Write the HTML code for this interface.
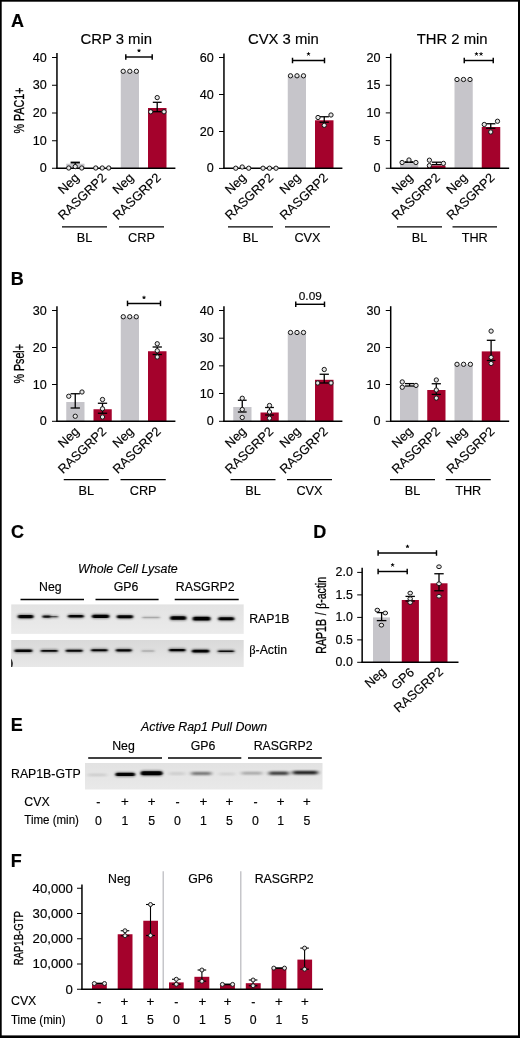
<!DOCTYPE html>
<html><head><meta charset="utf-8"><title>figure</title>
<style>html,body{margin:0;padding:0;background:#fff}body{width:520px;height:1038px;overflow:hidden}svg{display:block;opacity:0.999;will-change:transform}text{font-family:"Liberation Sans",sans-serif;fill:#000;stroke:#000;stroke-width:.16px}</style></head><body>
<svg width="520" height="1038" viewBox="0 0 520 1038">
<defs>
<filter id="b0" x="-20%" y="-100%" width="140%" height="300%"><feGaussianBlur stdDeviation="1.2 0.5"/></filter>
<filter id="b1" x="-20%" y="-100%" width="140%" height="300%"><feGaussianBlur stdDeviation="1.6 0.85"/></filter>
<filter id="b2" x="-20%" y="-100%" width="140%" height="300%"><feGaussianBlur stdDeviation="1.9 0.9"/></filter>
<linearGradient id="g1" x1="0" y1="0" x2="0" y2="1"><stop offset="0" stop-color="#e3e3e3"/><stop offset="1" stop-color="#ebebeb"/></linearGradient>
<linearGradient id="g2" x1="0" y1="0" x2="0" y2="1"><stop offset="0" stop-color="#d9d9d9"/><stop offset="1" stop-color="#e8e8e8"/></linearGradient>
<linearGradient id="g3" x1="0" y1="0" x2="0" y2="1"><stop offset="0" stop-color="#e2e2e2"/><stop offset="1" stop-color="#e9e9e9"/></linearGradient>
</defs>
<rect x="0" y="0" width="520" height="1038" fill="#fff"/>
<text x="11.00" y="26.80" font-size="18" text-anchor="start" font-weight="bold" font-style="normal" font-family="Liberation Sans" >A</text>
<text x="10.70" y="284.80" font-size="18" text-anchor="start" font-weight="bold" font-style="normal" font-family="Liberation Sans" >B</text>
<text x="10.90" y="538.30" font-size="18" text-anchor="start" font-weight="bold" font-style="normal" font-family="Liberation Sans" >C</text>
<text x="313.20" y="538.20" font-size="18" text-anchor="start" font-weight="bold" font-style="normal" font-family="Liberation Sans" >D</text>
<text x="10.80" y="730.80" font-size="18" text-anchor="start" font-weight="bold" font-style="normal" font-family="Liberation Sans" >E</text>
<text x="10.80" y="867.00" font-size="18" text-anchor="start" font-weight="bold" font-style="normal" font-family="Liberation Sans" >F</text>
<rect x="66.25" y="163.70" width="18.25" height="4.55" fill="#C6C5CA"/>
<rect x="120.75" y="71.30" width="18.25" height="96.95" fill="#C6C5CA"/>
<rect x="148.00" y="108.00" width="18.50" height="60.25" fill="#A4022C"/>
<line x1="56.95" y1="53.10" x2="56.95" y2="168.90" stroke="#000" stroke-width="1.5" stroke-linecap="butt"/>
<line x1="52.00" y1="57.50" x2="57.00" y2="57.50" stroke="#000" stroke-width="1.0" stroke-linecap="butt"/>
<text x="46.80" y="62.00" font-size="12.6" text-anchor="end" font-weight="normal" font-style="normal" font-family="Liberation Sans" >40</text>
<line x1="52.00" y1="85.25" x2="57.00" y2="85.25" stroke="#000" stroke-width="1.0" stroke-linecap="butt"/>
<text x="46.80" y="89.00" font-size="12.6" text-anchor="end" font-weight="normal" font-style="normal" font-family="Liberation Sans" >30</text>
<line x1="52.00" y1="113.00" x2="57.00" y2="113.00" stroke="#000" stroke-width="1.0" stroke-linecap="butt"/>
<text x="46.80" y="117.00" font-size="12.6" text-anchor="end" font-weight="normal" font-style="normal" font-family="Liberation Sans" >20</text>
<line x1="52.00" y1="140.75" x2="57.00" y2="140.75" stroke="#000" stroke-width="1.0" stroke-linecap="butt"/>
<text x="46.80" y="145.00" font-size="12.6" text-anchor="end" font-weight="normal" font-style="normal" font-family="Liberation Sans" >10</text>
<line x1="52.00" y1="168.25" x2="57.00" y2="168.25" stroke="#000" stroke-width="1.0" stroke-linecap="butt"/>
<text x="46.80" y="172.00" font-size="12.6" text-anchor="end" font-weight="normal" font-style="normal" font-family="Liberation Sans" >0</text>
<line x1="56.30" y1="168.25" x2="175.40" y2="168.25" stroke="#000" stroke-width="1.5" stroke-linecap="butt"/>
<text transform="translate(79.90,178.75) rotate(-43.5)" font-size="12.7" text-anchor="end">Neg</text>
<text transform="translate(107.10,178.75) rotate(-43.5)" font-size="12.7" text-anchor="end">RASGRP2</text>
<text transform="translate(134.40,178.75) rotate(-43.5)" font-size="12.7" text-anchor="end">Neg</text>
<text transform="translate(161.70,178.75) rotate(-43.5)" font-size="12.7" text-anchor="end">RASGRP2</text>
<line x1="62.00" y1="226.75" x2="107.00" y2="226.75" stroke="#000" stroke-width="1.25" stroke-linecap="butt"/>
<line x1="119.00" y1="226.75" x2="164.00" y2="226.75" stroke="#000" stroke-width="1.25" stroke-linecap="butt"/>
<text x="84.50" y="242.20" font-size="12.7" text-anchor="middle" font-weight="normal" font-style="normal" font-family="Liberation Sans" >BL</text>
<text x="141.50" y="242.20" font-size="12.7" text-anchor="middle" font-weight="normal" font-style="normal" font-family="Liberation Sans" >CRP</text>
<text x="116.25" y="44.20" font-size="14.85" text-anchor="middle" font-weight="normal" font-style="normal" font-family="Liberation Sans" >CRP 3 min</text>
<text transform="translate(23.70,110.50) rotate(-90) scale(0.765,1)" font-size="14.0" text-anchor="middle" font-weight="normal" style="stroke-width:.32px">% PAC1+</text>
<line x1="70.60" y1="162.55" x2="79.90" y2="162.55" stroke="#000" stroke-width="1.9" stroke-linecap="butt"/>
<line x1="75.25" y1="162.40" x2="75.25" y2="165.00" stroke="#000" stroke-width="1.3" stroke-linecap="butt"/>
<circle cx="68.75" cy="168.00" r="2.15" fill="#e6e6e6" stroke="#161616" stroke-width="1.0"/>
<circle cx="75.25" cy="166.60" r="2.15" fill="#e6e6e6" stroke="#161616" stroke-width="1.0"/>
<circle cx="81.75" cy="168.00" r="2.15" fill="#e6e6e6" stroke="#161616" stroke-width="1.0"/>
<circle cx="95.75" cy="168.00" r="2.15" fill="#e6e6e6" stroke="#161616" stroke-width="1.0"/>
<circle cx="102.25" cy="168.00" r="2.15" fill="#e6e6e6" stroke="#161616" stroke-width="1.0"/>
<circle cx="108.75" cy="168.00" r="2.15" fill="#e6e6e6" stroke="#161616" stroke-width="1.0"/>
<circle cx="123.20" cy="71.30" r="2.15" fill="#e6e6e6" stroke="#161616" stroke-width="1.0"/>
<circle cx="129.80" cy="71.30" r="2.15" fill="#e6e6e6" stroke="#161616" stroke-width="1.0"/>
<circle cx="136.40" cy="71.30" r="2.15" fill="#e6e6e6" stroke="#161616" stroke-width="1.0"/>
<line x1="157.20" y1="102.30" x2="157.20" y2="111.70" stroke="#000" stroke-width="1.3" stroke-linecap="butt"/>
<line x1="152.80" y1="102.30" x2="161.60" y2="102.30" stroke="#000" stroke-width="1.3" stroke-linecap="butt"/>
<line x1="152.80" y1="111.70" x2="161.60" y2="111.70" stroke="#000" stroke-width="1.3" stroke-linecap="butt"/>
<circle cx="157.20" cy="97.60" r="2.15" fill="#e6e6e6" stroke="#161616" stroke-width="1.0"/>
<circle cx="150.70" cy="111.80" r="2.15" fill="#e6e6e6" stroke="#161616" stroke-width="1.0"/>
<circle cx="164.00" cy="111.80" r="2.15" fill="#e6e6e6" stroke="#161616" stroke-width="1.0"/>
<line x1="125.80" y1="57.00" x2="152.20" y2="57.00" stroke="#000" stroke-width="1.45" stroke-linecap="butt"/>
<line x1="125.80" y1="54.25" x2="125.80" y2="59.75" stroke="#000" stroke-width="1.45" stroke-linecap="butt"/>
<line x1="152.20" y1="54.25" x2="152.20" y2="59.75" stroke="#000" stroke-width="1.45" stroke-linecap="butt"/>
<path d="M139.00 50.65L139.00 48.90M139.00 50.65L140.66 50.11M139.00 50.65L140.03 52.07M139.00 50.65L137.97 52.07M139.00 50.65L137.34 50.11" stroke="#000" stroke-width="1.0" fill="none" stroke-linecap="butt"/>
<rect x="287.75" y="75.80" width="18.25" height="92.45" fill="#C6C5CA"/>
<rect x="315.00" y="120.30" width="18.50" height="47.95" fill="#A4022C"/>
<line x1="223.95" y1="53.60" x2="223.95" y2="168.90" stroke="#000" stroke-width="1.5" stroke-linecap="butt"/>
<line x1="219.00" y1="57.50" x2="224.00" y2="57.50" stroke="#000" stroke-width="1.0" stroke-linecap="butt"/>
<text x="213.80" y="62.00" font-size="12.6" text-anchor="end" font-weight="normal" font-style="normal" font-family="Liberation Sans" >60</text>
<line x1="219.00" y1="94.50" x2="224.00" y2="94.50" stroke="#000" stroke-width="1.0" stroke-linecap="butt"/>
<text x="213.80" y="99.00" font-size="12.6" text-anchor="end" font-weight="normal" font-style="normal" font-family="Liberation Sans" >40</text>
<line x1="219.00" y1="131.50" x2="224.00" y2="131.50" stroke="#000" stroke-width="1.0" stroke-linecap="butt"/>
<text x="213.80" y="136.00" font-size="12.6" text-anchor="end" font-weight="normal" font-style="normal" font-family="Liberation Sans" >20</text>
<line x1="219.00" y1="168.40" x2="224.00" y2="168.40" stroke="#000" stroke-width="1.0" stroke-linecap="butt"/>
<text x="213.80" y="172.00" font-size="12.6" text-anchor="end" font-weight="normal" font-style="normal" font-family="Liberation Sans" >0</text>
<line x1="223.30" y1="168.25" x2="342.40" y2="168.25" stroke="#000" stroke-width="1.5" stroke-linecap="butt"/>
<text transform="translate(246.90,178.75) rotate(-43.5)" font-size="12.7" text-anchor="end">Neg</text>
<text transform="translate(274.10,178.75) rotate(-43.5)" font-size="12.7" text-anchor="end">RASGRP2</text>
<text transform="translate(301.40,178.75) rotate(-43.5)" font-size="12.7" text-anchor="end">Neg</text>
<text transform="translate(328.70,178.75) rotate(-43.5)" font-size="12.7" text-anchor="end">RASGRP2</text>
<line x1="228.00" y1="226.75" x2="273.00" y2="226.75" stroke="#000" stroke-width="1.25" stroke-linecap="butt"/>
<line x1="285.00" y1="226.75" x2="330.00" y2="226.75" stroke="#000" stroke-width="1.25" stroke-linecap="butt"/>
<text x="250.50" y="242.20" font-size="12.7" text-anchor="middle" font-weight="normal" font-style="normal" font-family="Liberation Sans" >BL</text>
<text x="307.50" y="242.20" font-size="12.7" text-anchor="middle" font-weight="normal" font-style="normal" font-family="Liberation Sans" >CVX</text>
<text x="283.40" y="44.00" font-size="14.85" text-anchor="middle" font-weight="normal" font-style="normal" font-family="Liberation Sans" >CVX 3 min</text>
<circle cx="235.75" cy="168.20" r="2.15" fill="#e6e6e6" stroke="#161616" stroke-width="1.0"/>
<circle cx="242.20" cy="167.00" r="2.15" fill="#e6e6e6" stroke="#161616" stroke-width="1.0"/>
<circle cx="248.75" cy="168.20" r="2.15" fill="#e6e6e6" stroke="#161616" stroke-width="1.0"/>
<circle cx="263.00" cy="168.20" r="2.15" fill="#e6e6e6" stroke="#161616" stroke-width="1.0"/>
<circle cx="269.50" cy="168.20" r="2.15" fill="#e6e6e6" stroke="#161616" stroke-width="1.0"/>
<circle cx="276.00" cy="168.20" r="2.15" fill="#e6e6e6" stroke="#161616" stroke-width="1.0"/>
<circle cx="290.50" cy="75.80" r="2.15" fill="#e6e6e6" stroke="#161616" stroke-width="1.0"/>
<circle cx="297.00" cy="75.80" r="2.15" fill="#e6e6e6" stroke="#161616" stroke-width="1.0"/>
<circle cx="303.50" cy="75.80" r="2.15" fill="#e6e6e6" stroke="#161616" stroke-width="1.0"/>
<line x1="324.25" y1="116.75" x2="324.25" y2="122.25" stroke="#000" stroke-width="1.3" stroke-linecap="butt"/>
<line x1="319.60" y1="116.75" x2="328.90" y2="116.75" stroke="#000" stroke-width="1.3" stroke-linecap="butt"/>
<line x1="319.60" y1="122.25" x2="328.90" y2="122.25" stroke="#000" stroke-width="1.3" stroke-linecap="butt"/>
<circle cx="318.00" cy="117.50" r="2.15" fill="#e6e6e6" stroke="#161616" stroke-width="1.0"/>
<circle cx="331.00" cy="115.00" r="2.15" fill="#e6e6e6" stroke="#161616" stroke-width="1.0"/>
<circle cx="324.25" cy="125.30" r="2.15" fill="#e6e6e6" stroke="#161616" stroke-width="1.0"/>
<line x1="292.50" y1="60.50" x2="324.50" y2="60.50" stroke="#000" stroke-width="1.45" stroke-linecap="butt"/>
<line x1="292.50" y1="57.75" x2="292.50" y2="63.25" stroke="#000" stroke-width="1.45" stroke-linecap="butt"/>
<line x1="324.50" y1="57.75" x2="324.50" y2="63.25" stroke="#000" stroke-width="1.45" stroke-linecap="butt"/>
<path d="M308.50 54.05L308.50 52.30M308.50 54.05L310.16 53.51M308.50 54.05L309.53 55.47M308.50 54.05L307.47 55.47M308.50 54.05L306.84 53.51" stroke="#000" stroke-width="1.0" fill="none" stroke-linecap="butt"/>
<rect x="400.00" y="163.20" width="18.25" height="5.05" fill="#C6C5CA"/>
<rect x="427.25" y="165.50" width="18.25" height="2.75" fill="#A4022C"/>
<rect x="454.50" y="79.50" width="18.25" height="88.75" fill="#C6C5CA"/>
<rect x="481.75" y="127.00" width="18.50" height="41.25" fill="#A4022C"/>
<line x1="390.70" y1="53.60" x2="390.70" y2="168.90" stroke="#000" stroke-width="1.5" stroke-linecap="butt"/>
<line x1="385.75" y1="57.50" x2="390.75" y2="57.50" stroke="#000" stroke-width="1.0" stroke-linecap="butt"/>
<text x="380.55" y="62.00" font-size="12.6" text-anchor="end" font-weight="normal" font-style="normal" font-family="Liberation Sans" >20</text>
<line x1="385.75" y1="85.25" x2="390.75" y2="85.25" stroke="#000" stroke-width="1.0" stroke-linecap="butt"/>
<text x="380.55" y="89.00" font-size="12.6" text-anchor="end" font-weight="normal" font-style="normal" font-family="Liberation Sans" >15</text>
<line x1="385.75" y1="112.90" x2="390.75" y2="112.90" stroke="#000" stroke-width="1.0" stroke-linecap="butt"/>
<text x="380.55" y="117.00" font-size="12.6" text-anchor="end" font-weight="normal" font-style="normal" font-family="Liberation Sans" >10</text>
<line x1="385.75" y1="140.60" x2="390.75" y2="140.60" stroke="#000" stroke-width="1.0" stroke-linecap="butt"/>
<text x="380.55" y="145.00" font-size="12.6" text-anchor="end" font-weight="normal" font-style="normal" font-family="Liberation Sans" >5</text>
<line x1="385.75" y1="168.25" x2="390.75" y2="168.25" stroke="#000" stroke-width="1.0" stroke-linecap="butt"/>
<text x="380.55" y="172.00" font-size="12.6" text-anchor="end" font-weight="normal" font-style="normal" font-family="Liberation Sans" >0</text>
<line x1="390.05" y1="168.25" x2="509.15" y2="168.25" stroke="#000" stroke-width="1.5" stroke-linecap="butt"/>
<text transform="translate(413.65,178.75) rotate(-43.5)" font-size="12.7" text-anchor="end">Neg</text>
<text transform="translate(440.85,178.75) rotate(-43.5)" font-size="12.7" text-anchor="end">RASGRP2</text>
<text transform="translate(468.15,178.75) rotate(-43.5)" font-size="12.7" text-anchor="end">Neg</text>
<text transform="translate(495.45,178.75) rotate(-43.5)" font-size="12.7" text-anchor="end">RASGRP2</text>
<line x1="397.00" y1="226.75" x2="442.00" y2="226.75" stroke="#000" stroke-width="1.25" stroke-linecap="butt"/>
<line x1="452.50" y1="226.75" x2="497.00" y2="226.75" stroke="#000" stroke-width="1.25" stroke-linecap="butt"/>
<text x="419.50" y="242.20" font-size="12.7" text-anchor="middle" font-weight="normal" font-style="normal" font-family="Liberation Sans" >BL</text>
<text x="474.75" y="242.20" font-size="12.7" text-anchor="middle" font-weight="normal" font-style="normal" font-family="Liberation Sans" >THR</text>
<text x="452.10" y="44.00" font-size="14.85" text-anchor="middle" font-weight="normal" font-style="normal" font-family="Liberation Sans" >THR 2 min</text>
<line x1="409.00" y1="162.20" x2="409.00" y2="162.20" stroke="#000" stroke-width="1.6" stroke-linecap="butt"/>
<line x1="404.75" y1="162.20" x2="413.25" y2="162.20" stroke="#000" stroke-width="1.6" stroke-linecap="butt"/>
<line x1="404.75" y1="162.20" x2="413.25" y2="162.20" stroke="#000" stroke-width="1.6" stroke-linecap="butt"/>
<circle cx="402.10" cy="162.50" r="2.15" fill="#e6e6e6" stroke="#161616" stroke-width="1.0"/>
<circle cx="409.00" cy="160.00" r="2.15" fill="#e6e6e6" stroke="#161616" stroke-width="1.0"/>
<circle cx="415.90" cy="162.50" r="2.15" fill="#e6e6e6" stroke="#161616" stroke-width="1.0"/>
<rect x="431.90" y="161.70" width="9.40" height="3.30" fill="#fff"/>
<line x1="436.50" y1="162.20" x2="436.50" y2="164.60" stroke="#000" stroke-width="1.3" stroke-linecap="butt"/>
<line x1="431.85" y1="162.20" x2="441.15" y2="162.20" stroke="#000" stroke-width="1.3" stroke-linecap="butt"/>
<line x1="431.85" y1="164.60" x2="441.15" y2="164.60" stroke="#000" stroke-width="1.3" stroke-linecap="butt"/>
<circle cx="429.40" cy="160.20" r="2.15" fill="#e6e6e6" stroke="#161616" stroke-width="1.0"/>
<circle cx="429.40" cy="165.60" r="2.15" fill="#e6e6e6" stroke="#161616" stroke-width="1.0"/>
<circle cx="443.40" cy="163.40" r="2.15" fill="#e6e6e6" stroke="#161616" stroke-width="1.0"/>
<circle cx="457.00" cy="79.50" r="2.15" fill="#e6e6e6" stroke="#161616" stroke-width="1.0"/>
<circle cx="463.50" cy="79.50" r="2.15" fill="#e6e6e6" stroke="#161616" stroke-width="1.0"/>
<circle cx="470.00" cy="79.50" r="2.15" fill="#e6e6e6" stroke="#161616" stroke-width="1.0"/>
<line x1="490.75" y1="123.75" x2="490.75" y2="128.25" stroke="#000" stroke-width="1.3" stroke-linecap="butt"/>
<line x1="486.10" y1="123.75" x2="495.40" y2="123.75" stroke="#000" stroke-width="1.3" stroke-linecap="butt"/>
<line x1="486.10" y1="128.25" x2="495.40" y2="128.25" stroke="#000" stroke-width="1.3" stroke-linecap="butt"/>
<circle cx="484.25" cy="124.50" r="2.15" fill="#e6e6e6" stroke="#161616" stroke-width="1.0"/>
<circle cx="497.50" cy="121.25" r="2.15" fill="#e6e6e6" stroke="#161616" stroke-width="1.0"/>
<circle cx="490.75" cy="132.00" r="2.15" fill="#e6e6e6" stroke="#161616" stroke-width="1.0"/>
<line x1="464.25" y1="60.50" x2="493.25" y2="60.50" stroke="#000" stroke-width="1.45" stroke-linecap="butt"/>
<line x1="464.25" y1="57.75" x2="464.25" y2="63.25" stroke="#000" stroke-width="1.45" stroke-linecap="butt"/>
<line x1="493.25" y1="57.75" x2="493.25" y2="63.25" stroke="#000" stroke-width="1.45" stroke-linecap="butt"/>
<path d="M476.45 54.05L476.45 52.30M476.45 54.05L478.11 53.51M476.45 54.05L477.48 55.47M476.45 54.05L475.42 55.47M476.45 54.05L474.79 53.51" stroke="#000" stroke-width="1.0" fill="none" stroke-linecap="butt"/>
<path d="M481.05 54.05L481.05 52.30M481.05 54.05L482.71 53.51M481.05 54.05L482.08 55.47M481.05 54.05L480.02 55.47M481.05 54.05L479.39 53.51" stroke="#000" stroke-width="1.0" fill="none" stroke-linecap="butt"/>
<rect x="66.25" y="402.00" width="18.25" height="19.30" fill="#C6C5CA"/>
<rect x="93.50" y="409.25" width="18.25" height="12.05" fill="#A4022C"/>
<rect x="120.75" y="316.75" width="18.25" height="104.55" fill="#C6C5CA"/>
<rect x="148.00" y="351.25" width="18.50" height="70.05" fill="#A4022C"/>
<line x1="56.95" y1="306.20" x2="56.95" y2="421.95" stroke="#000" stroke-width="1.5" stroke-linecap="butt"/>
<line x1="52.00" y1="310.50" x2="57.00" y2="310.50" stroke="#000" stroke-width="1.0" stroke-linecap="butt"/>
<text x="46.80" y="315.00" font-size="12.6" text-anchor="end" font-weight="normal" font-style="normal" font-family="Liberation Sans" >30</text>
<line x1="52.00" y1="347.50" x2="57.00" y2="347.50" stroke="#000" stroke-width="1.0" stroke-linecap="butt"/>
<text x="46.80" y="352.00" font-size="12.6" text-anchor="end" font-weight="normal" font-style="normal" font-family="Liberation Sans" >20</text>
<line x1="52.00" y1="384.50" x2="57.00" y2="384.50" stroke="#000" stroke-width="1.0" stroke-linecap="butt"/>
<text x="46.80" y="389.00" font-size="12.6" text-anchor="end" font-weight="normal" font-style="normal" font-family="Liberation Sans" >10</text>
<line x1="52.00" y1="421.30" x2="57.00" y2="421.30" stroke="#000" stroke-width="1.0" stroke-linecap="butt"/>
<text x="46.80" y="425.00" font-size="12.6" text-anchor="end" font-weight="normal" font-style="normal" font-family="Liberation Sans" >0</text>
<line x1="56.30" y1="421.30" x2="175.40" y2="421.30" stroke="#000" stroke-width="1.5" stroke-linecap="butt"/>
<text transform="translate(79.90,432.40) rotate(-43.5)" font-size="12.7" text-anchor="end">Neg</text>
<text transform="translate(107.10,432.40) rotate(-43.5)" font-size="12.7" text-anchor="end">RASGRP2</text>
<text transform="translate(134.40,432.40) rotate(-43.5)" font-size="12.7" text-anchor="end">Neg</text>
<text transform="translate(161.70,432.40) rotate(-43.5)" font-size="12.7" text-anchor="end">RASGRP2</text>
<line x1="63.75" y1="479.60" x2="108.75" y2="479.60" stroke="#000" stroke-width="1.25" stroke-linecap="butt"/>
<line x1="120.50" y1="479.60" x2="165.75" y2="479.60" stroke="#000" stroke-width="1.25" stroke-linecap="butt"/>
<text x="86.25" y="494.60" font-size="12.7" text-anchor="middle" font-weight="normal" font-style="normal" font-family="Liberation Sans" >BL</text>
<text x="143.12" y="494.60" font-size="12.7" text-anchor="middle" font-weight="normal" font-style="normal" font-family="Liberation Sans" >CRP</text>
<text transform="translate(23.70,363.80) rotate(-90) scale(0.765,1)" font-size="14.0" text-anchor="middle" font-weight="normal" style="stroke-width:.32px">% Psel+</text>
<line x1="75.25" y1="393.75" x2="75.25" y2="408.00" stroke="#000" stroke-width="1.3" stroke-linecap="butt"/>
<line x1="70.60" y1="393.75" x2="79.90" y2="393.75" stroke="#000" stroke-width="1.3" stroke-linecap="butt"/>
<line x1="70.60" y1="408.00" x2="79.90" y2="408.00" stroke="#000" stroke-width="1.3" stroke-linecap="butt"/>
<circle cx="68.75" cy="396.25" r="2.15" fill="#e6e6e6" stroke="#161616" stroke-width="1.0"/>
<circle cx="82.00" cy="392.00" r="2.15" fill="#e6e6e6" stroke="#161616" stroke-width="1.0"/>
<circle cx="75.25" cy="416.25" r="2.15" fill="#e6e6e6" stroke="#161616" stroke-width="1.0"/>
<line x1="102.50" y1="403.25" x2="102.50" y2="413.25" stroke="#000" stroke-width="1.3" stroke-linecap="butt"/>
<line x1="97.85" y1="403.25" x2="107.15" y2="403.25" stroke="#000" stroke-width="1.3" stroke-linecap="butt"/>
<line x1="97.85" y1="413.25" x2="107.15" y2="413.25" stroke="#000" stroke-width="1.3" stroke-linecap="butt"/>
<circle cx="102.50" cy="399.50" r="2.15" fill="#e6e6e6" stroke="#161616" stroke-width="1.0"/>
<circle cx="102.50" cy="408.75" r="2.15" fill="#e6e6e6" stroke="#161616" stroke-width="1.0"/>
<circle cx="102.50" cy="417.00" r="2.15" fill="#e6e6e6" stroke="#161616" stroke-width="1.0"/>
<circle cx="123.25" cy="316.75" r="2.15" fill="#e6e6e6" stroke="#161616" stroke-width="1.0"/>
<circle cx="129.75" cy="316.75" r="2.15" fill="#e6e6e6" stroke="#161616" stroke-width="1.0"/>
<circle cx="136.25" cy="316.75" r="2.15" fill="#e6e6e6" stroke="#161616" stroke-width="1.0"/>
<line x1="157.25" y1="347.00" x2="157.25" y2="354.50" stroke="#000" stroke-width="1.3" stroke-linecap="butt"/>
<line x1="152.60" y1="347.00" x2="161.90" y2="347.00" stroke="#000" stroke-width="1.3" stroke-linecap="butt"/>
<line x1="152.60" y1="354.50" x2="161.90" y2="354.50" stroke="#000" stroke-width="1.3" stroke-linecap="butt"/>
<circle cx="157.25" cy="343.75" r="2.15" fill="#e6e6e6" stroke="#161616" stroke-width="1.0"/>
<circle cx="157.25" cy="350.75" r="2.15" fill="#e6e6e6" stroke="#161616" stroke-width="1.0"/>
<circle cx="157.25" cy="357.00" r="2.15" fill="#e6e6e6" stroke="#161616" stroke-width="1.0"/>
<line x1="127.50" y1="303.40" x2="160.50" y2="303.40" stroke="#000" stroke-width="1.45" stroke-linecap="butt"/>
<line x1="127.50" y1="300.65" x2="127.50" y2="306.15" stroke="#000" stroke-width="1.45" stroke-linecap="butt"/>
<line x1="160.50" y1="300.65" x2="160.50" y2="306.15" stroke="#000" stroke-width="1.45" stroke-linecap="butt"/>
<path d="M144.00 297.55L144.00 295.80M144.00 297.55L145.66 297.01M144.00 297.55L145.03 298.97M144.00 297.55L142.97 298.97M144.00 297.55L142.34 297.01" stroke="#000" stroke-width="1.0" fill="none" stroke-linecap="butt"/>
<rect x="233.25" y="407.00" width="18.25" height="14.30" fill="#C6C5CA"/>
<rect x="260.50" y="412.50" width="18.25" height="8.80" fill="#A4022C"/>
<rect x="287.75" y="332.50" width="18.25" height="88.80" fill="#C6C5CA"/>
<rect x="315.00" y="379.80" width="18.50" height="41.50" fill="#A4022C"/>
<line x1="223.95" y1="306.20" x2="223.95" y2="421.95" stroke="#000" stroke-width="1.5" stroke-linecap="butt"/>
<line x1="219.00" y1="310.50" x2="224.00" y2="310.50" stroke="#000" stroke-width="1.0" stroke-linecap="butt"/>
<text x="213.80" y="315.00" font-size="12.6" text-anchor="end" font-weight="normal" font-style="normal" font-family="Liberation Sans" >40</text>
<line x1="219.00" y1="338.20" x2="224.00" y2="338.20" stroke="#000" stroke-width="1.0" stroke-linecap="butt"/>
<text x="213.80" y="342.00" font-size="12.6" text-anchor="end" font-weight="normal" font-style="normal" font-family="Liberation Sans" >30</text>
<line x1="219.00" y1="365.85" x2="224.00" y2="365.85" stroke="#000" stroke-width="1.0" stroke-linecap="butt"/>
<text x="213.80" y="370.00" font-size="12.6" text-anchor="end" font-weight="normal" font-style="normal" font-family="Liberation Sans" >20</text>
<line x1="219.00" y1="393.50" x2="224.00" y2="393.50" stroke="#000" stroke-width="1.0" stroke-linecap="butt"/>
<text x="213.80" y="398.00" font-size="12.6" text-anchor="end" font-weight="normal" font-style="normal" font-family="Liberation Sans" >10</text>
<line x1="219.00" y1="421.30" x2="224.00" y2="421.30" stroke="#000" stroke-width="1.0" stroke-linecap="butt"/>
<text x="213.80" y="425.00" font-size="12.6" text-anchor="end" font-weight="normal" font-style="normal" font-family="Liberation Sans" >0</text>
<line x1="223.30" y1="421.30" x2="342.40" y2="421.30" stroke="#000" stroke-width="1.5" stroke-linecap="butt"/>
<text transform="translate(246.90,432.40) rotate(-43.5)" font-size="12.7" text-anchor="end">Neg</text>
<text transform="translate(274.10,432.40) rotate(-43.5)" font-size="12.7" text-anchor="end">RASGRP2</text>
<text transform="translate(301.40,432.40) rotate(-43.5)" font-size="12.7" text-anchor="end">Neg</text>
<text transform="translate(328.70,432.40) rotate(-43.5)" font-size="12.7" text-anchor="end">RASGRP2</text>
<line x1="230.50" y1="479.60" x2="275.50" y2="479.60" stroke="#000" stroke-width="1.25" stroke-linecap="butt"/>
<line x1="287.00" y1="479.60" x2="332.00" y2="479.60" stroke="#000" stroke-width="1.25" stroke-linecap="butt"/>
<text x="253.00" y="494.60" font-size="12.7" text-anchor="middle" font-weight="normal" font-style="normal" font-family="Liberation Sans" >BL</text>
<text x="309.50" y="494.60" font-size="12.7" text-anchor="middle" font-weight="normal" font-style="normal" font-family="Liberation Sans" >CVX</text>
<line x1="242.25" y1="400.25" x2="242.25" y2="412.00" stroke="#000" stroke-width="1.3" stroke-linecap="butt"/>
<line x1="237.85" y1="400.25" x2="246.65" y2="400.25" stroke="#000" stroke-width="1.3" stroke-linecap="butt"/>
<line x1="237.85" y1="412.00" x2="246.65" y2="412.00" stroke="#000" stroke-width="1.3" stroke-linecap="butt"/>
<circle cx="242.25" cy="398.25" r="2.15" fill="#e6e6e6" stroke="#161616" stroke-width="1.0"/>
<circle cx="242.25" cy="409.50" r="2.15" fill="#e6e6e6" stroke="#161616" stroke-width="1.0"/>
<circle cx="242.25" cy="417.50" r="2.15" fill="#e6e6e6" stroke="#161616" stroke-width="1.0"/>
<line x1="269.50" y1="407.50" x2="269.50" y2="415.00" stroke="#000" stroke-width="1.3" stroke-linecap="butt"/>
<line x1="265.10" y1="407.50" x2="273.90" y2="407.50" stroke="#000" stroke-width="1.3" stroke-linecap="butt"/>
<line x1="265.10" y1="415.00" x2="273.90" y2="415.00" stroke="#000" stroke-width="1.3" stroke-linecap="butt"/>
<circle cx="269.50" cy="405.50" r="2.15" fill="#e6e6e6" stroke="#161616" stroke-width="1.0"/>
<circle cx="269.50" cy="412.00" r="2.15" fill="#e6e6e6" stroke="#161616" stroke-width="1.0"/>
<circle cx="269.50" cy="418.25" r="2.15" fill="#e6e6e6" stroke="#161616" stroke-width="1.0"/>
<circle cx="290.50" cy="332.50" r="2.15" fill="#e6e6e6" stroke="#161616" stroke-width="1.0"/>
<circle cx="297.00" cy="332.50" r="2.15" fill="#e6e6e6" stroke="#161616" stroke-width="1.0"/>
<circle cx="303.50" cy="332.50" r="2.15" fill="#e6e6e6" stroke="#161616" stroke-width="1.0"/>
<line x1="324.25" y1="374.25" x2="324.25" y2="383.00" stroke="#000" stroke-width="1.3" stroke-linecap="butt"/>
<line x1="319.60" y1="374.25" x2="328.90" y2="374.25" stroke="#000" stroke-width="1.3" stroke-linecap="butt"/>
<line x1="319.60" y1="383.00" x2="328.90" y2="383.00" stroke="#000" stroke-width="1.3" stroke-linecap="butt"/>
<circle cx="324.25" cy="369.50" r="2.15" fill="#e6e6e6" stroke="#161616" stroke-width="1.0"/>
<circle cx="317.75" cy="383.00" r="2.15" fill="#e6e6e6" stroke="#161616" stroke-width="1.0"/>
<circle cx="331.00" cy="383.00" r="2.15" fill="#e6e6e6" stroke="#161616" stroke-width="1.0"/>
<line x1="295.75" y1="304.30" x2="324.50" y2="304.30" stroke="#000" stroke-width="1.45" stroke-linecap="butt"/>
<line x1="295.75" y1="301.55" x2="295.75" y2="307.05" stroke="#000" stroke-width="1.45" stroke-linecap="butt"/>
<line x1="324.50" y1="301.55" x2="324.50" y2="307.05" stroke="#000" stroke-width="1.45" stroke-linecap="butt"/>
<text x="310.30" y="299.60" font-size="11.8" text-anchor="middle" font-weight="normal" font-style="normal" font-family="Liberation Sans" >0.09</text>
<rect x="400.00" y="385.80" width="18.25" height="35.50" fill="#C6C5CA"/>
<rect x="427.25" y="390.00" width="18.25" height="31.30" fill="#A4022C"/>
<rect x="454.50" y="364.30" width="18.25" height="57.00" fill="#C6C5CA"/>
<rect x="481.75" y="351.40" width="18.50" height="69.90" fill="#A4022C"/>
<line x1="390.70" y1="306.20" x2="390.70" y2="421.95" stroke="#000" stroke-width="1.5" stroke-linecap="butt"/>
<line x1="385.75" y1="310.50" x2="390.75" y2="310.50" stroke="#000" stroke-width="1.0" stroke-linecap="butt"/>
<text x="380.55" y="315.00" font-size="12.6" text-anchor="end" font-weight="normal" font-style="normal" font-family="Liberation Sans" >30</text>
<line x1="385.75" y1="347.50" x2="390.75" y2="347.50" stroke="#000" stroke-width="1.0" stroke-linecap="butt"/>
<text x="380.55" y="352.00" font-size="12.6" text-anchor="end" font-weight="normal" font-style="normal" font-family="Liberation Sans" >20</text>
<line x1="385.75" y1="384.50" x2="390.75" y2="384.50" stroke="#000" stroke-width="1.0" stroke-linecap="butt"/>
<text x="380.55" y="389.00" font-size="12.6" text-anchor="end" font-weight="normal" font-style="normal" font-family="Liberation Sans" >10</text>
<line x1="385.75" y1="421.30" x2="390.75" y2="421.30" stroke="#000" stroke-width="1.0" stroke-linecap="butt"/>
<text x="380.55" y="425.00" font-size="12.6" text-anchor="end" font-weight="normal" font-style="normal" font-family="Liberation Sans" >0</text>
<line x1="390.05" y1="421.30" x2="509.15" y2="421.30" stroke="#000" stroke-width="1.5" stroke-linecap="butt"/>
<text transform="translate(413.65,432.40) rotate(-43.5)" font-size="12.7" text-anchor="end">Neg</text>
<text transform="translate(440.85,432.40) rotate(-43.5)" font-size="12.7" text-anchor="end">RASGRP2</text>
<text transform="translate(468.15,432.40) rotate(-43.5)" font-size="12.7" text-anchor="end">Neg</text>
<text transform="translate(495.45,432.40) rotate(-43.5)" font-size="12.7" text-anchor="end">RASGRP2</text>
<line x1="390.00" y1="479.60" x2="435.00" y2="479.60" stroke="#000" stroke-width="1.25" stroke-linecap="butt"/>
<line x1="445.75" y1="479.60" x2="490.75" y2="479.60" stroke="#000" stroke-width="1.25" stroke-linecap="butt"/>
<text x="412.50" y="494.60" font-size="12.7" text-anchor="middle" font-weight="normal" font-style="normal" font-family="Liberation Sans" >BL</text>
<text x="468.25" y="494.60" font-size="12.7" text-anchor="middle" font-weight="normal" font-style="normal" font-family="Liberation Sans" >THR</text>
<rect x="405.00" y="383.60" width="9.40" height="2.20" fill="#fff"/>
<line x1="409.60" y1="383.60" x2="409.60" y2="386.00" stroke="#000" stroke-width="1.3" stroke-linecap="butt"/>
<line x1="404.90" y1="383.60" x2="414.30" y2="383.60" stroke="#000" stroke-width="1.3" stroke-linecap="butt"/>
<line x1="404.90" y1="386.00" x2="414.30" y2="386.00" stroke="#000" stroke-width="1.3" stroke-linecap="butt"/>
<circle cx="402.25" cy="381.90" r="2.15" fill="#e6e6e6" stroke="#161616" stroke-width="1.0"/>
<circle cx="402.25" cy="387.25" r="2.15" fill="#e6e6e6" stroke="#161616" stroke-width="1.0"/>
<circle cx="416.00" cy="385.40" r="2.15" fill="#e6e6e6" stroke="#161616" stroke-width="1.0"/>
<line x1="436.30" y1="383.75" x2="436.30" y2="394.40" stroke="#000" stroke-width="1.3" stroke-linecap="butt"/>
<line x1="431.70" y1="383.75" x2="440.90" y2="383.75" stroke="#000" stroke-width="1.3" stroke-linecap="butt"/>
<line x1="431.70" y1="394.40" x2="440.90" y2="394.40" stroke="#000" stroke-width="1.3" stroke-linecap="butt"/>
<circle cx="436.30" cy="380.00" r="2.15" fill="#e6e6e6" stroke="#161616" stroke-width="1.0"/>
<circle cx="436.30" cy="390.00" r="2.15" fill="#e6e6e6" stroke="#161616" stroke-width="1.0"/>
<circle cx="436.30" cy="398.10" r="2.15" fill="#e6e6e6" stroke="#161616" stroke-width="1.0"/>
<circle cx="457.00" cy="364.30" r="2.15" fill="#e6e6e6" stroke="#161616" stroke-width="1.0"/>
<circle cx="463.60" cy="364.30" r="2.15" fill="#e6e6e6" stroke="#161616" stroke-width="1.0"/>
<circle cx="470.40" cy="364.30" r="2.15" fill="#e6e6e6" stroke="#161616" stroke-width="1.0"/>
<line x1="491.10" y1="340.30" x2="491.10" y2="360.50" stroke="#000" stroke-width="1.3" stroke-linecap="butt"/>
<line x1="486.80" y1="340.30" x2="495.40" y2="340.30" stroke="#000" stroke-width="1.3" stroke-linecap="butt"/>
<line x1="486.80" y1="360.50" x2="495.40" y2="360.50" stroke="#000" stroke-width="1.3" stroke-linecap="butt"/>
<circle cx="491.10" cy="331.10" r="2.15" fill="#e6e6e6" stroke="#161616" stroke-width="1.0"/>
<circle cx="491.10" cy="357.40" r="2.15" fill="#e6e6e6" stroke="#161616" stroke-width="1.0"/>
<circle cx="491.10" cy="363.50" r="2.15" fill="#e6e6e6" stroke="#161616" stroke-width="1.0"/>
<text x="127.90" y="572.70" font-size="12.4" text-anchor="middle" font-weight="normal" font-style="italic" font-family="Liberation Sans" >Whole Cell Lysate</text>
<text x="50.40" y="591.40" font-size="12.3" text-anchor="middle" font-weight="normal" font-style="normal" font-family="Liberation Sans" >Neg</text>
<text x="126.00" y="591.40" font-size="12.3" text-anchor="middle" font-weight="normal" font-style="normal" font-family="Liberation Sans" >GP6</text>
<text x="205.20" y="591.40" font-size="12.3" text-anchor="middle" font-weight="normal" font-style="normal" font-family="Liberation Sans" >RASGRP2</text>
<line x1="20.50" y1="599.40" x2="84.00" y2="599.40" stroke="#000" stroke-width="1.5" stroke-linecap="butt"/>
<line x1="95.50" y1="599.40" x2="158.60" y2="599.40" stroke="#000" stroke-width="1.5" stroke-linecap="butt"/>
<line x1="174.70" y1="599.40" x2="238.70" y2="599.40" stroke="#000" stroke-width="1.5" stroke-linecap="butt"/>
<rect x="11.2" y="604.4" width="232.5" height="29.5" fill="url(#g1)"/>
<rect x="11.2" y="640.0" width="232.5" height="27.0" fill="url(#g2)"/>
<rect x="17.30" y="614.35" width="16.70" height="4.50" rx="2.25" fill="#000" opacity="0.48" filter="url(#b1)"/>
<rect x="18.10" y="615.05" width="15.10" height="3.10" rx="1.55" fill="#000" opacity="0.97" filter="url(#b0)"/>
<rect x="41.80" y="614.85" width="9.20" height="3.50" rx="1.75" fill="#000" opacity="0.42" filter="url(#b1)"/>
<rect x="42.60" y="615.55" width="7.60" height="2.10" rx="1.05" fill="#000" opacity="0.85" filter="url(#b0)"/>
<rect x="48.00" y="615.50" width="10.60" height="2.40" rx="1.20" fill="#000" opacity="0.35" filter="url(#b1)"/>
<rect x="48.80" y="616.20" width="9.00" height="1.00" rx="0.50" fill="#000" opacity="0.7" filter="url(#b0)"/>
<rect x="67.50" y="614.25" width="16.70" height="3.90" rx="1.95" fill="#000" opacity="0.47" filter="url(#b1)"/>
<rect x="68.30" y="614.95" width="15.10" height="2.50" rx="1.25" fill="#000" opacity="0.95" filter="url(#b0)"/>
<rect x="91.50" y="614.00" width="18.30" height="4.60" rx="2.30" fill="#000" opacity="0.49" filter="url(#b1)"/>
<rect x="92.30" y="614.70" width="16.70" height="3.20" rx="1.60" fill="#000" opacity="0.98" filter="url(#b0)"/>
<rect x="116.30" y="614.65" width="17.30" height="4.30" rx="2.15" fill="#000" opacity="0.48" filter="url(#b1)"/>
<rect x="117.10" y="615.35" width="15.70" height="2.90" rx="1.45" fill="#000" opacity="0.96" filter="url(#b0)"/>
<rect x="141.50" y="616.15" width="19.00" height="2.70" rx="1.35" fill="#000" opacity="0.10" filter="url(#b1)"/>
<rect x="142.30" y="616.85" width="17.40" height="1.30" rx="0.65" fill="#000" opacity="0.2" filter="url(#b0)"/>
<rect x="169.70" y="615.45" width="17.10" height="5.10" rx="2.55" fill="#000" opacity="0.49" filter="url(#b1)"/>
<rect x="170.50" y="616.15" width="15.50" height="3.70" rx="1.85" fill="#000" opacity="0.99" filter="url(#b0)"/>
<rect x="192.20" y="616.15" width="18.80" height="5.10" rx="2.55" fill="#000" opacity="0.49" filter="url(#b1)"/>
<rect x="193.00" y="616.85" width="17.20" height="3.70" rx="1.85" fill="#000" opacity="0.99" filter="url(#b0)"/>
<rect x="217.70" y="616.45" width="17.10" height="4.50" rx="2.25" fill="#000" opacity="0.48" filter="url(#b1)"/>
<rect x="218.50" y="617.15" width="15.50" height="3.10" rx="1.55" fill="#000" opacity="0.97" filter="url(#b0)"/>
<rect x="14.00" y="648.90" width="18.80" height="3.80" rx="1.90" fill="#000" opacity="0.48" filter="url(#b1)"/>
<rect x="14.80" y="649.60" width="17.20" height="2.40" rx="1.20" fill="#000" opacity="0.96" filter="url(#b0)"/>
<rect x="40.30" y="649.30" width="18.00" height="3.20" rx="1.60" fill="#000" opacity="0.46" filter="url(#b1)"/>
<rect x="41.10" y="650.00" width="16.40" height="1.80" rx="0.90" fill="#000" opacity="0.92" filter="url(#b0)"/>
<rect x="65.20" y="649.10" width="18.00" height="3.40" rx="1.70" fill="#000" opacity="0.47" filter="url(#b1)"/>
<rect x="66.00" y="649.80" width="16.40" height="2.00" rx="1.00" fill="#000" opacity="0.93" filter="url(#b0)"/>
<rect x="90.60" y="648.50" width="17.60" height="3.40" rx="1.70" fill="#000" opacity="0.47" filter="url(#b1)"/>
<rect x="91.40" y="649.20" width="16.00" height="2.00" rx="1.00" fill="#000" opacity="0.94" filter="url(#b0)"/>
<rect x="115.30" y="648.45" width="17.00" height="3.70" rx="1.85" fill="#000" opacity="0.47" filter="url(#b1)"/>
<rect x="116.10" y="649.15" width="15.40" height="2.30" rx="1.15" fill="#000" opacity="0.95" filter="url(#b0)"/>
<rect x="141.00" y="649.80" width="14.00" height="2.40" rx="1.20" fill="#000" opacity="0.11" filter="url(#b1)"/>
<rect x="141.80" y="650.50" width="12.40" height="1.00" rx="0.50" fill="#000" opacity="0.22" filter="url(#b0)"/>
<rect x="168.50" y="648.35" width="17.50" height="3.70" rx="1.85" fill="#000" opacity="0.48" filter="url(#b1)"/>
<rect x="169.30" y="649.05" width="15.90" height="2.30" rx="1.15" fill="#000" opacity="0.96" filter="url(#b0)"/>
<rect x="191.50" y="649.10" width="18.30" height="4.20" rx="2.10" fill="#000" opacity="0.48" filter="url(#b1)"/>
<rect x="192.30" y="649.80" width="16.70" height="2.80" rx="1.40" fill="#000" opacity="0.97" filter="url(#b0)"/>
<rect x="217.30" y="649.80" width="17.40" height="3.00" rx="1.50" fill="#000" opacity="0.45" filter="url(#b1)"/>
<rect x="218.10" y="650.50" width="15.80" height="1.60" rx="0.80" fill="#000" opacity="0.9" filter="url(#b0)"/>
<path d="M11.2 658.6 Q13.6 662.5 12.2 667 L11.2 667 Z" fill="#111"/>
<text x="249.20" y="622.70" font-size="12.3" text-anchor="start" font-weight="normal" font-style="normal" font-family="Liberation Sans" >RAP1B</text>
<text x="249.2" y="653.9" font-size="12.3"><tspan font-family="Liberation Serif" font-size="12.5">β</tspan>-Actin</text>
<rect x="373.00" y="617.40" width="17.00" height="44.90" fill="#C6C5CA"/>
<rect x="401.75" y="600.00" width="17.15" height="62.30" fill="#A4022C"/>
<rect x="430.50" y="583.30" width="17.00" height="79.00" fill="#A4022C"/>
<line x1="362.15" y1="567.70" x2="362.15" y2="662.95" stroke="#000" stroke-width="1.5" stroke-linecap="butt"/>
<line x1="357.20" y1="572.40" x2="362.20" y2="572.40" stroke="#000" stroke-width="1.0" stroke-linecap="butt"/>
<text x="352.80" y="576.00" font-size="12.4" text-anchor="end" font-weight="normal" font-style="normal" font-family="Liberation Sans" >2.0</text>
<line x1="357.20" y1="594.90" x2="362.20" y2="594.90" stroke="#000" stroke-width="1.0" stroke-linecap="butt"/>
<text x="352.80" y="599.00" font-size="12.4" text-anchor="end" font-weight="normal" font-style="normal" font-family="Liberation Sans" >1.5</text>
<line x1="357.20" y1="617.40" x2="362.20" y2="617.40" stroke="#000" stroke-width="1.0" stroke-linecap="butt"/>
<text x="352.80" y="621.00" font-size="12.4" text-anchor="end" font-weight="normal" font-style="normal" font-family="Liberation Sans" >1.0</text>
<line x1="357.20" y1="639.90" x2="362.20" y2="639.90" stroke="#000" stroke-width="1.0" stroke-linecap="butt"/>
<text x="352.80" y="644.00" font-size="12.4" text-anchor="end" font-weight="normal" font-style="normal" font-family="Liberation Sans" >0.5</text>
<line x1="357.20" y1="662.30" x2="362.20" y2="662.30" stroke="#000" stroke-width="1.0" stroke-linecap="butt"/>
<text x="352.80" y="666.00" font-size="12.4" text-anchor="end" font-weight="normal" font-style="normal" font-family="Liberation Sans" >0.0</text>
<line x1="361.50" y1="662.30" x2="458.50" y2="662.30" stroke="#000" stroke-width="1.5" stroke-linecap="butt"/>
<text transform="translate(325.9,615.3) rotate(-90) scale(0.76,1)" font-size="14" text-anchor="middle" style="stroke-width:.32px;word-spacing:0.9px">RAP1B / <tspan font-family="Liberation Serif" font-size="15">β</tspan>-actin</text>
<line x1="381.60" y1="612.60" x2="381.60" y2="620.60" stroke="#000" stroke-width="1.3" stroke-linecap="butt"/>
<line x1="376.80" y1="612.60" x2="386.40" y2="612.60" stroke="#000" stroke-width="1.3" stroke-linecap="butt"/>
<line x1="376.80" y1="620.60" x2="386.40" y2="620.60" stroke="#000" stroke-width="1.3" stroke-linecap="butt"/>
<ellipse cx="377.30" cy="610.10" rx="2.3" ry="1.9" fill="#e6e6e6" stroke="#161616" stroke-width="1.0"/>
<ellipse cx="385.30" cy="613.00" rx="2.3" ry="1.9" fill="#e6e6e6" stroke="#161616" stroke-width="1.0"/>
<ellipse cx="381.40" cy="625.20" rx="2.3" ry="1.9" fill="#e6e6e6" stroke="#161616" stroke-width="1.0"/>
<line x1="410.20" y1="596.40" x2="410.20" y2="601.00" stroke="#000" stroke-width="1.3" stroke-linecap="butt"/>
<line x1="405.50" y1="596.40" x2="414.90" y2="596.40" stroke="#000" stroke-width="1.3" stroke-linecap="butt"/>
<line x1="405.50" y1="601.00" x2="414.90" y2="601.00" stroke="#000" stroke-width="1.3" stroke-linecap="butt"/>
<ellipse cx="410.20" cy="593.10" rx="2.3" ry="1.9" fill="#e6e6e6" stroke="#161616" stroke-width="1.0"/>
<ellipse cx="410.20" cy="598.70" rx="2.3" ry="1.9" fill="#e6e6e6" stroke="#161616" stroke-width="1.0"/>
<ellipse cx="410.20" cy="602.60" rx="2.3" ry="1.9" fill="#e6e6e6" stroke="#161616" stroke-width="1.0"/>
<line x1="439.00" y1="573.75" x2="439.00" y2="590.75" stroke="#000" stroke-width="1.3" stroke-linecap="butt"/>
<line x1="434.30" y1="573.75" x2="443.70" y2="573.75" stroke="#000" stroke-width="1.3" stroke-linecap="butt"/>
<line x1="434.30" y1="590.75" x2="443.70" y2="590.75" stroke="#000" stroke-width="1.3" stroke-linecap="butt"/>
<ellipse cx="439.00" cy="566.75" rx="2.3" ry="1.9" fill="#e6e6e6" stroke="#161616" stroke-width="1.0"/>
<ellipse cx="439.00" cy="583.75" rx="2.3" ry="1.9" fill="#e6e6e6" stroke="#161616" stroke-width="1.0"/>
<ellipse cx="439.00" cy="596.25" rx="2.3" ry="1.9" fill="#e6e6e6" stroke="#161616" stroke-width="1.0"/>
<line x1="378.10" y1="553.00" x2="436.50" y2="553.00" stroke="#000" stroke-width="1.45" stroke-linecap="butt"/>
<line x1="378.10" y1="550.25" x2="378.10" y2="555.75" stroke="#000" stroke-width="1.45" stroke-linecap="butt"/>
<line x1="436.50" y1="550.25" x2="436.50" y2="555.75" stroke="#000" stroke-width="1.45" stroke-linecap="butt"/>
<path d="M407.50 546.55L407.50 544.80M407.50 546.55L409.16 546.01M407.50 546.55L408.53 547.97M407.50 546.55L406.47 547.97M407.50 546.55L405.84 546.01" stroke="#000" stroke-width="1.0" fill="none" stroke-linecap="butt"/>
<line x1="378.10" y1="571.50" x2="407.20" y2="571.50" stroke="#000" stroke-width="1.45" stroke-linecap="butt"/>
<line x1="378.10" y1="568.75" x2="378.10" y2="574.25" stroke="#000" stroke-width="1.45" stroke-linecap="butt"/>
<line x1="407.20" y1="568.75" x2="407.20" y2="574.25" stroke="#000" stroke-width="1.45" stroke-linecap="butt"/>
<path d="M392.60 565.05L392.60 563.30M392.60 565.05L394.26 564.51M392.60 565.05L393.63 566.47M392.60 565.05L391.57 566.47M392.60 565.05L390.94 564.51" stroke="#000" stroke-width="1.0" fill="none" stroke-linecap="butt"/>
<text transform="translate(386.90,673.00) rotate(-41.5)" font-size="12.7" text-anchor="end">Neg</text>
<text transform="translate(415.00,673.50) rotate(-41.5)" font-size="12.7" text-anchor="end">GP6</text>
<text transform="translate(444.00,672.80) rotate(-41.5)" font-size="12.7" text-anchor="end">RASGRP2</text>
<text x="204.10" y="730.90" font-size="12.4" text-anchor="middle" font-weight="normal" font-style="italic" font-family="Liberation Sans" >Active Rap1 Pull Down</text>
<text x="123.50" y="749.60" font-size="12.3" text-anchor="middle" font-weight="normal" font-style="normal" font-family="Liberation Sans" >Neg</text>
<text x="203.00" y="749.60" font-size="12.3" text-anchor="middle" font-weight="normal" font-style="normal" font-family="Liberation Sans" >GP6</text>
<text x="283.10" y="749.60" font-size="12.3" text-anchor="middle" font-weight="normal" font-style="normal" font-family="Liberation Sans" >RASGRP2</text>
<line x1="88.20" y1="757.90" x2="162.00" y2="757.90" stroke="#000" stroke-width="1.5" stroke-linecap="butt"/>
<line x1="168.00" y1="757.90" x2="241.30" y2="757.90" stroke="#000" stroke-width="1.5" stroke-linecap="butt"/>
<line x1="248.00" y1="757.90" x2="321.80" y2="757.90" stroke="#000" stroke-width="1.5" stroke-linecap="butt"/>
<rect x="85.0" y="763.0" width="237.5" height="26.5" fill="url(#g3)"/>
<rect x="88.00" y="773.90" width="18.50" height="1.80" rx="0.90" fill="#000" opacity="0.16" filter="url(#b2)"/>
<rect x="115.00" y="772.15" width="20.50" height="4.50" rx="2.25" fill="#000" opacity="0.48" filter="url(#b1)"/>
<rect x="115.80" y="772.85" width="18.90" height="3.10" rx="1.55" fill="#000" opacity="0.97" filter="url(#b0)"/>
<rect x="140.20" y="770.55" width="22.80" height="5.50" rx="2.75" fill="#000" opacity="0.49" filter="url(#b1)"/>
<rect x="141.00" y="771.25" width="21.20" height="4.10" rx="2.05" fill="#000" opacity="0.99" filter="url(#b0)"/>
<rect x="169.00" y="772.80" width="16.00" height="1.60" rx="0.80" fill="#000" opacity="0.17" filter="url(#b2)"/>
<rect x="191.30" y="772.20" width="20.00" height="2.60" rx="1.30" fill="#000" opacity="0.62" filter="url(#b2)"/>
<rect x="218.80" y="773.25" width="16.20" height="1.50" rx="0.75" fill="#000" opacity="0.15" filter="url(#b2)"/>
<rect x="241.50" y="772.20" width="20.50" height="2.00" rx="1.00" fill="#000" opacity="0.38" filter="url(#b2)"/>
<rect x="268.80" y="771.80" width="20.00" height="3.00" rx="1.50" fill="#000" opacity="0.85" filter="url(#b2)"/>
<rect x="292.50" y="770.90" width="25.50" height="3.40" rx="1.70" fill="#000" opacity="0.95" filter="url(#b2)"/>
<text x="11.00" y="777.60" font-size="12.3" text-anchor="start" font-weight="normal" font-style="normal" font-family="Liberation Sans" >RAP1B-GTP</text>
<text x="24.30" y="805.60" font-size="12.3" text-anchor="start" font-weight="normal" font-style="normal" font-family="Liberation Sans" >CVX</text>
<text x="24.30" y="824.40" font-size="12.3" text-anchor="start" font-weight="normal" font-style="normal" font-family="Liberation Sans" textLength="54.6" lengthAdjust="spacingAndGlyphs">Time (min)</text>
<text x="98.30" y="806.20" font-size="12.3" text-anchor="middle" font-weight="normal" font-style="normal" font-family="Liberation Sans" >-</text>
<text x="98.30" y="824.50" font-size="12.3" text-anchor="middle" font-weight="normal" font-style="normal" font-family="Liberation Sans" >0</text>
<text x="125.00" y="806.20" font-size="13.3" text-anchor="middle" font-weight="normal" font-style="normal" font-family="Liberation Sans" >+</text>
<text x="125.00" y="824.50" font-size="12.3" text-anchor="middle" font-weight="normal" font-style="normal" font-family="Liberation Sans" >1</text>
<text x="151.60" y="806.20" font-size="13.3" text-anchor="middle" font-weight="normal" font-style="normal" font-family="Liberation Sans" >+</text>
<text x="151.60" y="824.50" font-size="12.3" text-anchor="middle" font-weight="normal" font-style="normal" font-family="Liberation Sans" >5</text>
<text x="177.50" y="806.20" font-size="12.3" text-anchor="middle" font-weight="normal" font-style="normal" font-family="Liberation Sans" >-</text>
<text x="177.50" y="824.50" font-size="12.3" text-anchor="middle" font-weight="normal" font-style="normal" font-family="Liberation Sans" >0</text>
<text x="203.30" y="806.20" font-size="13.3" text-anchor="middle" font-weight="normal" font-style="normal" font-family="Liberation Sans" >+</text>
<text x="203.30" y="824.50" font-size="12.3" text-anchor="middle" font-weight="normal" font-style="normal" font-family="Liberation Sans" >1</text>
<text x="229.50" y="806.20" font-size="13.3" text-anchor="middle" font-weight="normal" font-style="normal" font-family="Liberation Sans" >+</text>
<text x="229.50" y="824.50" font-size="12.3" text-anchor="middle" font-weight="normal" font-style="normal" font-family="Liberation Sans" >5</text>
<text x="255.50" y="806.20" font-size="12.3" text-anchor="middle" font-weight="normal" font-style="normal" font-family="Liberation Sans" >-</text>
<text x="255.50" y="824.50" font-size="12.3" text-anchor="middle" font-weight="normal" font-style="normal" font-family="Liberation Sans" >0</text>
<text x="280.60" y="806.20" font-size="13.3" text-anchor="middle" font-weight="normal" font-style="normal" font-family="Liberation Sans" >+</text>
<text x="280.60" y="824.50" font-size="12.3" text-anchor="middle" font-weight="normal" font-style="normal" font-family="Liberation Sans" >1</text>
<text x="307.00" y="806.20" font-size="13.3" text-anchor="middle" font-weight="normal" font-style="normal" font-family="Liberation Sans" >+</text>
<text x="307.00" y="824.50" font-size="12.3" text-anchor="middle" font-weight="normal" font-style="normal" font-family="Liberation Sans" >5</text>
<rect x="92.00" y="984.25" width="14.80" height="5.00" fill="#A4022C"/>
<rect x="117.70" y="934.25" width="14.80" height="55.00" fill="#A4022C"/>
<rect x="143.30" y="920.75" width="14.70" height="68.50" fill="#A4022C"/>
<rect x="169.00" y="982.40" width="14.70" height="6.85" fill="#A4022C"/>
<rect x="194.40" y="976.80" width="14.90" height="12.45" fill="#A4022C"/>
<rect x="220.00" y="984.20" width="14.90" height="5.05" fill="#A4022C"/>
<rect x="245.80" y="983.20" width="14.90" height="6.05" fill="#A4022C"/>
<rect x="271.70" y="968.30" width="14.60" height="20.95" fill="#A4022C"/>
<rect x="297.40" y="959.60" width="14.70" height="29.65" fill="#A4022C"/>
<line x1="163.25" y1="871.30" x2="163.25" y2="989.25" stroke="#c6c6ca" stroke-width="1.5" stroke-linecap="butt"/>
<line x1="240.75" y1="871.30" x2="240.75" y2="989.25" stroke="#c6c6ca" stroke-width="1.5" stroke-linecap="butt"/>
<line x1="81.95" y1="884.40" x2="81.95" y2="989.90" stroke="#000" stroke-width="1.5" stroke-linecap="butt"/>
<line x1="77.00" y1="888.25" x2="82.00" y2="888.25" stroke="#000" stroke-width="1.0" stroke-linecap="butt"/>
<text x="72.90" y="893.00" font-size="13.2" text-anchor="end" font-weight="normal" font-style="normal" font-family="Liberation Sans" >40,000</text>
<line x1="77.00" y1="913.50" x2="82.00" y2="913.50" stroke="#000" stroke-width="1.0" stroke-linecap="butt"/>
<text x="72.90" y="918.00" font-size="13.2" text-anchor="end" font-weight="normal" font-style="normal" font-family="Liberation Sans" >30,000</text>
<line x1="77.00" y1="938.75" x2="82.00" y2="938.75" stroke="#000" stroke-width="1.0" stroke-linecap="butt"/>
<text x="72.90" y="943.00" font-size="13.2" text-anchor="end" font-weight="normal" font-style="normal" font-family="Liberation Sans" >20,000</text>
<line x1="77.00" y1="964.00" x2="82.00" y2="964.00" stroke="#000" stroke-width="1.0" stroke-linecap="butt"/>
<text x="72.90" y="968.00" font-size="13.2" text-anchor="end" font-weight="normal" font-style="normal" font-family="Liberation Sans" >10,000</text>
<line x1="77.00" y1="989.25" x2="82.00" y2="989.25" stroke="#000" stroke-width="1.0" stroke-linecap="butt"/>
<text x="72.90" y="994.00" font-size="13.2" text-anchor="end" font-weight="normal" font-style="normal" font-family="Liberation Sans" >0</text>
<line x1="81.30" y1="989.25" x2="323.00" y2="989.25" stroke="#000" stroke-width="1.5" stroke-linecap="butt"/>
<text transform="translate(23.40,938.20) rotate(-90) scale(0.705,1)" font-size="13.6" text-anchor="middle" font-weight="normal" style="stroke-width:.32px">RAP1B-GTP</text>
<text x="119.40" y="882.60" font-size="12.3" text-anchor="middle" font-weight="normal" font-style="normal" font-family="Liberation Sans" >Neg</text>
<text x="200.60" y="882.50" font-size="12.3" text-anchor="middle" font-weight="normal" font-style="normal" font-family="Liberation Sans" >GP6</text>
<text x="284.10" y="882.50" font-size="12.3" text-anchor="middle" font-weight="normal" font-style="normal" font-family="Liberation Sans" >RASGRP2</text>
<line x1="94.30" y1="983.50" x2="104.50" y2="983.50" stroke="#000" stroke-width="1.7" stroke-linecap="butt"/>
<circle cx="94.30" cy="983.50" r="2.0" fill="#e6e6e6" stroke="#161616" stroke-width="0.95"/>
<circle cx="104.50" cy="983.50" r="2.0" fill="#e6e6e6" stroke="#161616" stroke-width="0.95"/>
<line x1="125.00" y1="930.75" x2="125.00" y2="935.75" stroke="#000" stroke-width="1.1" stroke-linecap="butt"/>
<line x1="120.70" y1="930.75" x2="129.30" y2="930.75" stroke="#000" stroke-width="1.1" stroke-linecap="butt"/>
<line x1="120.70" y1="935.75" x2="129.30" y2="935.75" stroke="#000" stroke-width="1.1" stroke-linecap="butt"/>
<circle cx="125.00" cy="930.75" r="2.0" fill="#e6e6e6" stroke="#161616" stroke-width="0.95"/>
<circle cx="125.00" cy="935.75" r="2.0" fill="#e6e6e6" stroke="#161616" stroke-width="0.95"/>
<line x1="150.50" y1="904.50" x2="150.50" y2="935.50" stroke="#000" stroke-width="1.1" stroke-linecap="butt"/>
<line x1="146.00" y1="904.50" x2="155.00" y2="904.50" stroke="#000" stroke-width="1.1" stroke-linecap="butt"/>
<line x1="146.00" y1="935.50" x2="155.00" y2="935.50" stroke="#000" stroke-width="1.1" stroke-linecap="butt"/>
<circle cx="150.50" cy="904.50" r="2.0" fill="#e6e6e6" stroke="#161616" stroke-width="0.95"/>
<circle cx="150.50" cy="935.50" r="2.0" fill="#e6e6e6" stroke="#161616" stroke-width="0.95"/>
<line x1="176.30" y1="979.25" x2="176.30" y2="984.25" stroke="#000" stroke-width="1.1" stroke-linecap="butt"/>
<line x1="172.00" y1="979.25" x2="180.60" y2="979.25" stroke="#000" stroke-width="1.1" stroke-linecap="butt"/>
<line x1="172.00" y1="984.25" x2="180.60" y2="984.25" stroke="#000" stroke-width="1.1" stroke-linecap="butt"/>
<circle cx="176.30" cy="979.25" r="2.0" fill="#e6e6e6" stroke="#161616" stroke-width="0.95"/>
<circle cx="176.30" cy="984.25" r="2.0" fill="#e6e6e6" stroke="#161616" stroke-width="0.95"/>
<line x1="201.90" y1="970.00" x2="201.90" y2="981.20" stroke="#000" stroke-width="1.1" stroke-linecap="butt"/>
<line x1="197.60" y1="970.00" x2="206.20" y2="970.00" stroke="#000" stroke-width="1.1" stroke-linecap="butt"/>
<line x1="197.60" y1="981.20" x2="206.20" y2="981.20" stroke="#000" stroke-width="1.1" stroke-linecap="butt"/>
<circle cx="201.90" cy="970.00" r="2.0" fill="#e6e6e6" stroke="#161616" stroke-width="0.95"/>
<circle cx="201.90" cy="981.20" r="2.0" fill="#e6e6e6" stroke="#161616" stroke-width="0.95"/>
<line x1="222.40" y1="984.40" x2="232.60" y2="984.40" stroke="#000" stroke-width="1.7" stroke-linecap="butt"/>
<circle cx="222.40" cy="984.40" r="2.0" fill="#e6e6e6" stroke="#161616" stroke-width="0.95"/>
<circle cx="232.60" cy="984.40" r="2.0" fill="#e6e6e6" stroke="#161616" stroke-width="0.95"/>
<line x1="253.10" y1="980.00" x2="253.10" y2="985.75" stroke="#000" stroke-width="1.1" stroke-linecap="butt"/>
<line x1="248.80" y1="980.00" x2="257.40" y2="980.00" stroke="#000" stroke-width="1.1" stroke-linecap="butt"/>
<line x1="248.80" y1="985.75" x2="257.40" y2="985.75" stroke="#000" stroke-width="1.1" stroke-linecap="butt"/>
<circle cx="253.10" cy="980.00" r="2.0" fill="#e6e6e6" stroke="#161616" stroke-width="0.95"/>
<circle cx="253.10" cy="985.75" r="2.0" fill="#e6e6e6" stroke="#161616" stroke-width="0.95"/>
<line x1="273.80" y1="968.10" x2="284.50" y2="968.10" stroke="#000" stroke-width="1.7" stroke-linecap="butt"/>
<circle cx="273.80" cy="968.10" r="2.0" fill="#e6e6e6" stroke="#161616" stroke-width="0.95"/>
<circle cx="284.50" cy="968.10" r="2.0" fill="#e6e6e6" stroke="#161616" stroke-width="0.95"/>
<line x1="304.60" y1="948.10" x2="304.60" y2="969.20" stroke="#000" stroke-width="1.1" stroke-linecap="butt"/>
<line x1="300.30" y1="948.10" x2="308.90" y2="948.10" stroke="#000" stroke-width="1.1" stroke-linecap="butt"/>
<line x1="300.30" y1="969.20" x2="308.90" y2="969.20" stroke="#000" stroke-width="1.1" stroke-linecap="butt"/>
<circle cx="304.60" cy="948.10" r="2.0" fill="#e6e6e6" stroke="#161616" stroke-width="0.95"/>
<circle cx="304.60" cy="969.20" r="2.0" fill="#e6e6e6" stroke="#161616" stroke-width="0.95"/>
<text x="11.00" y="1005.10" font-size="12.3" text-anchor="start" font-weight="normal" font-style="normal" font-family="Liberation Sans" >CVX</text>
<text x="11.00" y="1023.80" font-size="12.3" text-anchor="start" font-weight="normal" font-style="normal" font-family="Liberation Sans" textLength="54.6" lengthAdjust="spacingAndGlyphs">Time (min)</text>
<text x="99.30" y="1005.70" font-size="12.3" text-anchor="middle" font-weight="normal" font-style="normal" font-family="Liberation Sans" >-</text>
<text x="99.30" y="1023.70" font-size="12.3" text-anchor="middle" font-weight="normal" font-style="normal" font-family="Liberation Sans" >0</text>
<text x="124.50" y="1005.70" font-size="13.3" text-anchor="middle" font-weight="normal" font-style="normal" font-family="Liberation Sans" >+</text>
<text x="124.50" y="1023.70" font-size="12.3" text-anchor="middle" font-weight="normal" font-style="normal" font-family="Liberation Sans" >1</text>
<text x="150.50" y="1005.70" font-size="13.3" text-anchor="middle" font-weight="normal" font-style="normal" font-family="Liberation Sans" >+</text>
<text x="150.50" y="1023.70" font-size="12.3" text-anchor="middle" font-weight="normal" font-style="normal" font-family="Liberation Sans" >5</text>
<text x="176.30" y="1005.70" font-size="12.3" text-anchor="middle" font-weight="normal" font-style="normal" font-family="Liberation Sans" >-</text>
<text x="176.30" y="1023.70" font-size="12.3" text-anchor="middle" font-weight="normal" font-style="normal" font-family="Liberation Sans" >0</text>
<text x="202.40" y="1005.70" font-size="13.3" text-anchor="middle" font-weight="normal" font-style="normal" font-family="Liberation Sans" >+</text>
<text x="202.40" y="1023.70" font-size="12.3" text-anchor="middle" font-weight="normal" font-style="normal" font-family="Liberation Sans" >1</text>
<text x="227.60" y="1005.70" font-size="13.3" text-anchor="middle" font-weight="normal" font-style="normal" font-family="Liberation Sans" >+</text>
<text x="227.60" y="1023.70" font-size="12.3" text-anchor="middle" font-weight="normal" font-style="normal" font-family="Liberation Sans" >5</text>
<text x="253.20" y="1005.70" font-size="12.3" text-anchor="middle" font-weight="normal" font-style="normal" font-family="Liberation Sans" >-</text>
<text x="253.20" y="1023.70" font-size="12.3" text-anchor="middle" font-weight="normal" font-style="normal" font-family="Liberation Sans" >0</text>
<text x="278.80" y="1005.70" font-size="13.3" text-anchor="middle" font-weight="normal" font-style="normal" font-family="Liberation Sans" >+</text>
<text x="278.80" y="1023.70" font-size="12.3" text-anchor="middle" font-weight="normal" font-style="normal" font-family="Liberation Sans" >1</text>
<text x="305.00" y="1005.70" font-size="13.3" text-anchor="middle" font-weight="normal" font-style="normal" font-family="Liberation Sans" >+</text>
<text x="305.00" y="1023.70" font-size="12.3" text-anchor="middle" font-weight="normal" font-style="normal" font-family="Liberation Sans" >5</text>
<rect x="0" y="0" width="520" height="1.7" fill="#000"/><rect x="0" y="0" width="1.7" height="1038" fill="#000"/>
<rect x="518" y="0" width="2" height="1038" fill="#000"/><rect x="0" y="1035.4" width="520" height="2.6" fill="#000"/>
</svg></body></html>
